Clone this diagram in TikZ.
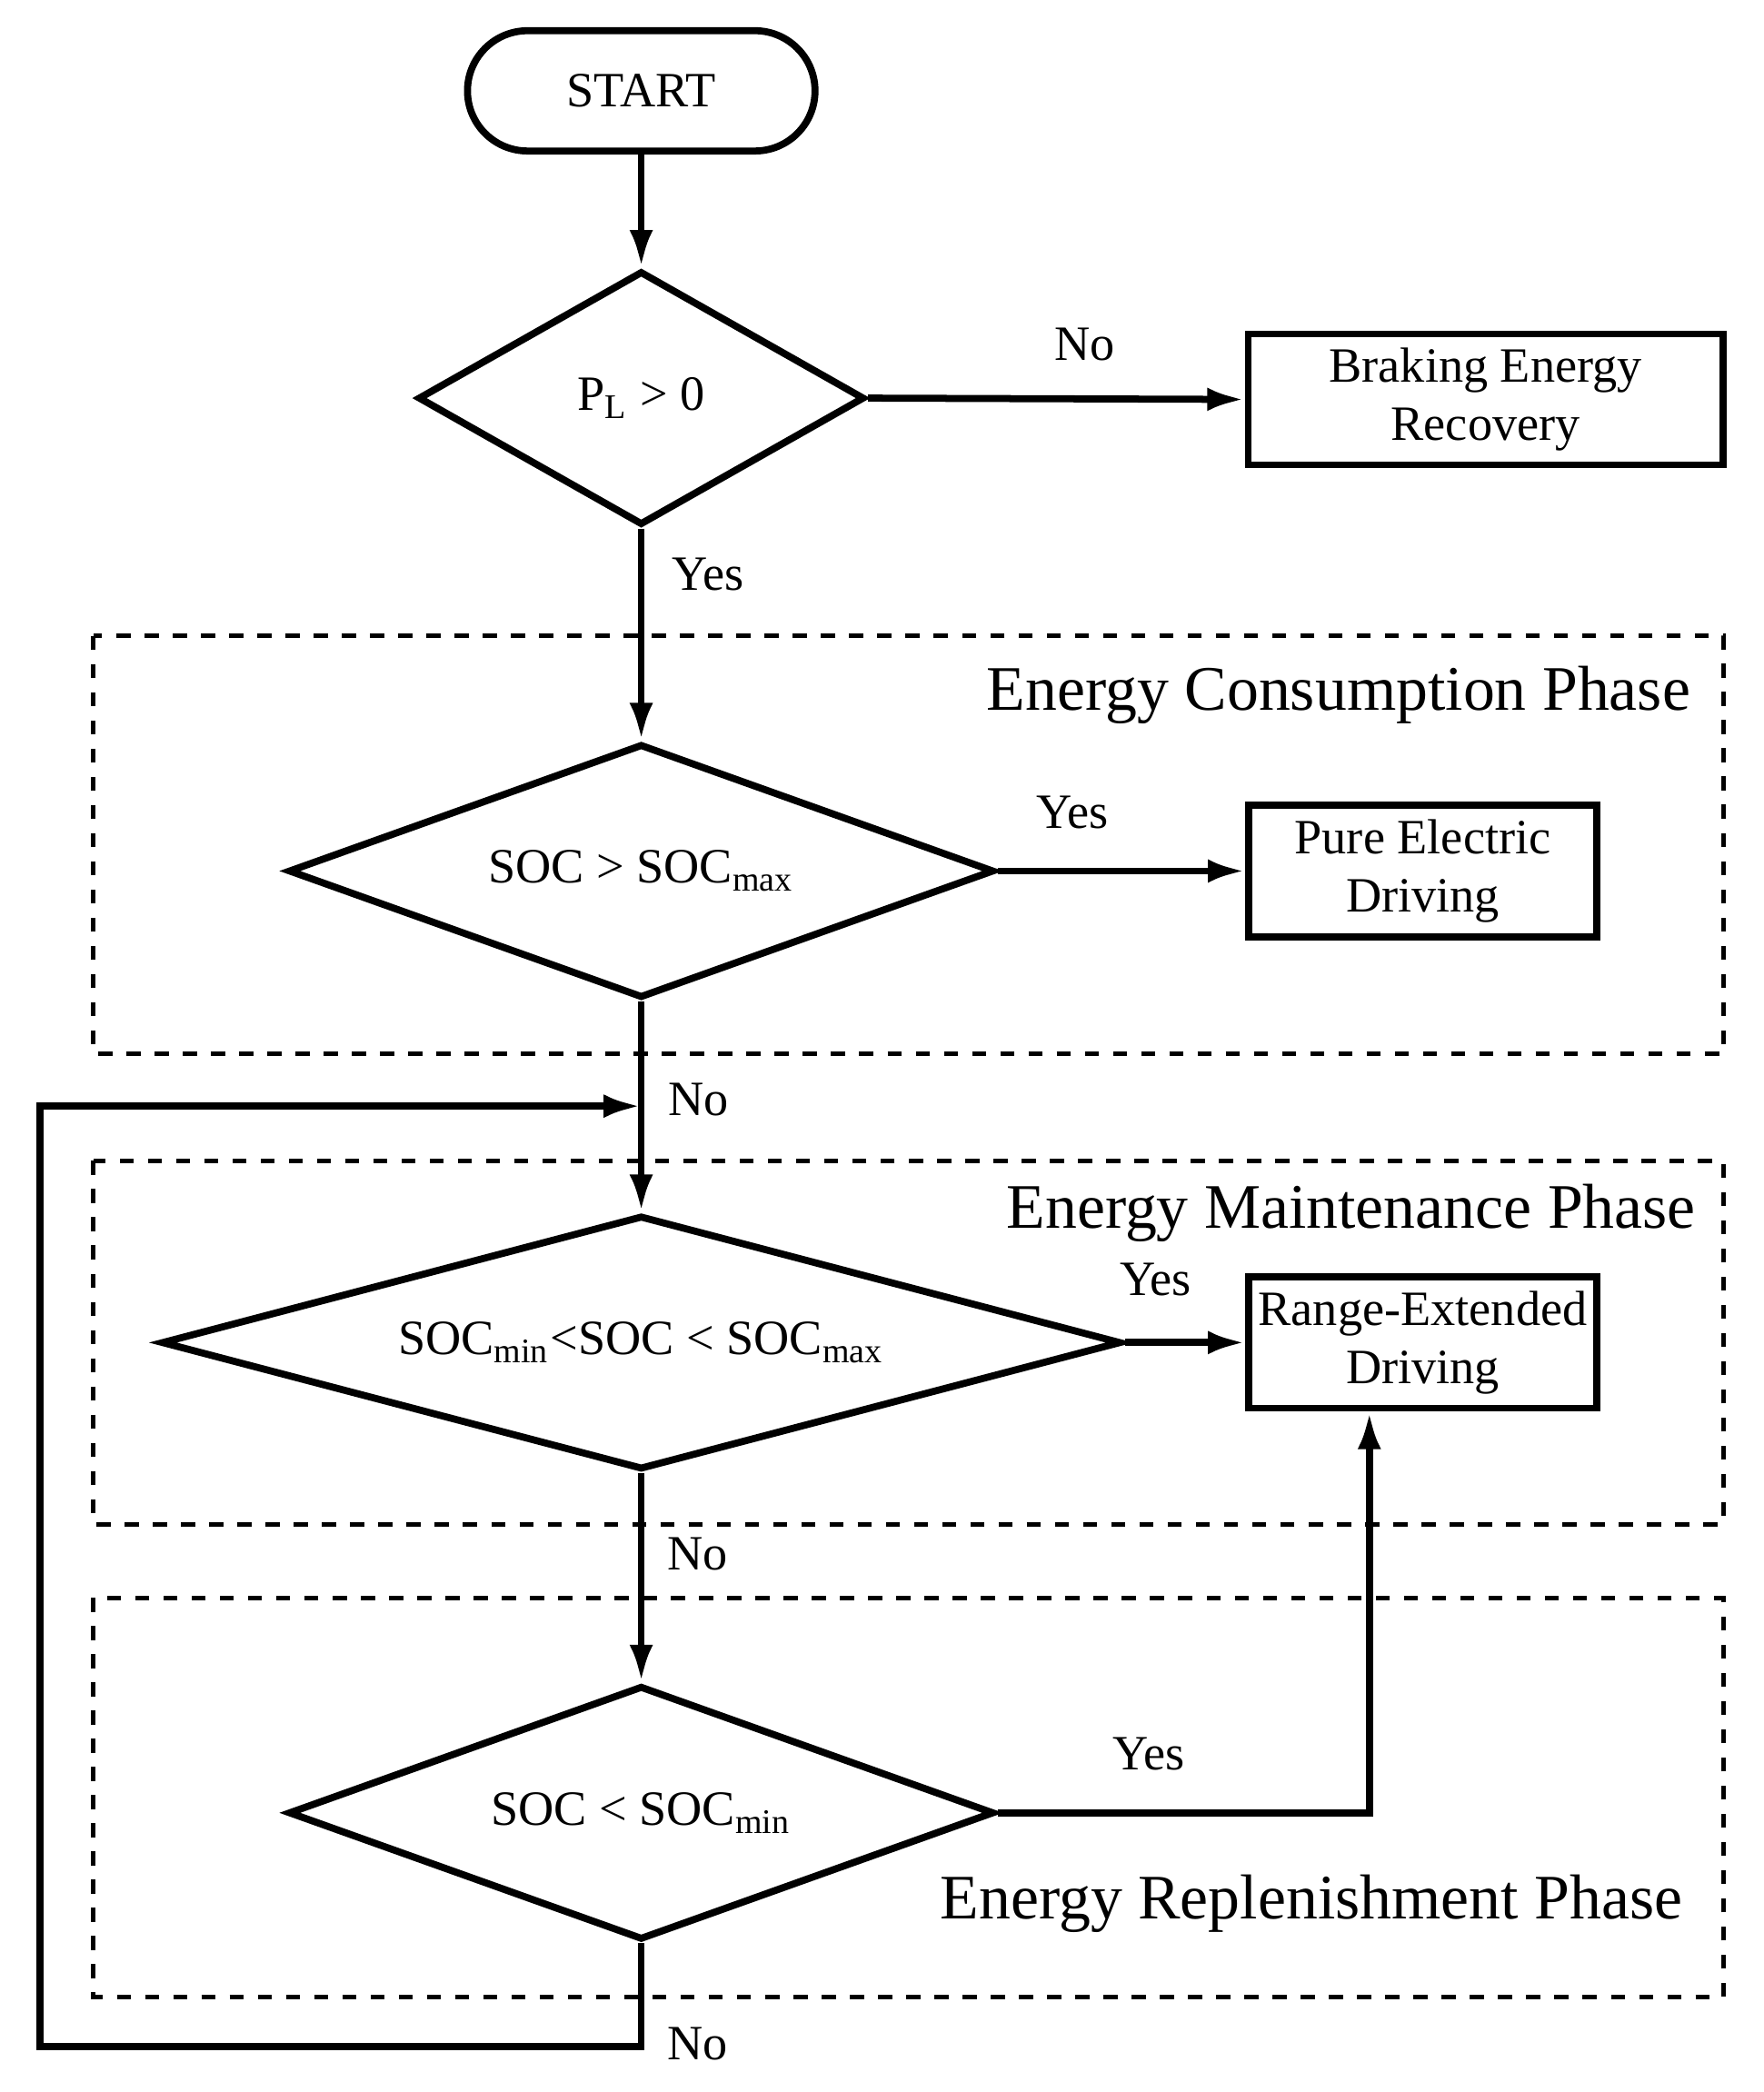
\documentclass[tikz,border=0pt]{standalone}
\usepackage{fontspec}
\setmainfont{Liberation Serif}
\usetikzlibrary{shapes.geometric,arrows.meta}

\begin{document}
\begin{tikzpicture}[x=0.01cm,y=-0.01cm,line width=1.5pt]
      \tikzstyle{every node}=[font=\fontsize{10.5}{12.5}\selectfont, inner sep=0pt]
      \tikzstyle{dec}=[diamond, draw, aspect=4, line width=1.5pt, minimum height=1.9cm]
      \tikzstyle{act}=[rectangle, draw, line width=1.5pt, align=center]
      \tikzstyle{phase}=[draw, dashed, line width=1pt]
      \tikzstyle{ttl}=[font=\fontsize{13.5}{16}\selectfont, anchor=east]
      \tikzstyle{arr}=[-{Latex[length=8pt,width=5pt]}, line width=1.5pt]
      \useasboundingbox (0,0) rectangle (1320,1566);
      % phases
      \draw[phase] (70,476) rectangle (1290,789);
      \draw[phase] (70,869) rectangle (1290,1141);
      \draw[phase] (70,1196) rectangle (1290,1495);
      \node[ttl] at (1268,520) {Energy Consumption Phase};
      \node[ttl] at (1272,908) {Energy Maintenance Phase};
      \node[ttl] at (1262,1425) {Energy Replenishment Phase};
      % nodes
      \node[draw, rounded corners=0.45cm, line width=1.5pt,
        minimum width=2.6cm, minimum height=0.9cm] (start) at (480,68) {START};
      \node[dec, minimum width=3.34cm] (pl) at (480,298) {P\textsubscript{L} > 0};
      \node[act, minimum width=3.55cm, minimum height=0.98cm] (brake) at (1112,299) {Braking Energy\\Recovery};
      \node[dec, minimum width=5.28cm] (max) at (480,652) {SOC > SOC\textsubscript{max}};
      \node[act, minimum width=2.6cm, minimum height=0.99cm] (pure) at (1065,652) {Pure Electric\\Driving};
      \node[dec, minimum width=7.18cm] (mid) at (480,1005) {SOC\textsubscript{min}<SOC < SOC\textsubscript{max}};
      \node[act, minimum width=2.6cm, minimum height=0.98cm] (range) at (1065,1005) {Range-Extended\\Driving};
      \node[dec, minimum width=5.28cm] (min) at (480,1357) {SOC < SOC\textsubscript{min}};
      \coordinate (back) at (480,828);
      % connectors
      \draw[arr] (start) -- (pl);
      \draw[arr] (pl.east) -- (brake.west);
      \draw[arr] (pl.south) -- (max.north);
      \draw[arr] (max.east) -- (pure.west);
      \draw[arr] (max.south) -- (mid.north);
      \draw[arr] (mid.east) -- (range.west);
      \draw[arr] (mid.south) -- (min.north);
      \draw[arr] (min.east) -- (1025,1357) -- (range.south -| 1025,0);
      \draw[arr] (min.south) -- (480,1532) -- (30,1532) -- (30,828) -- (back);
      % labels
      \node at (812,258) {No};
      \node at (530,430) {Yes};
      \node at (803,608) {Yes};
      \node at (523,823) {No};
      \node at (865,958) {Yes};
      \node at (522,1163) {No};
      \node at (860,1313) {Yes};
      \node at (522,1530) {No};
\end{tikzpicture}
\end{document}
